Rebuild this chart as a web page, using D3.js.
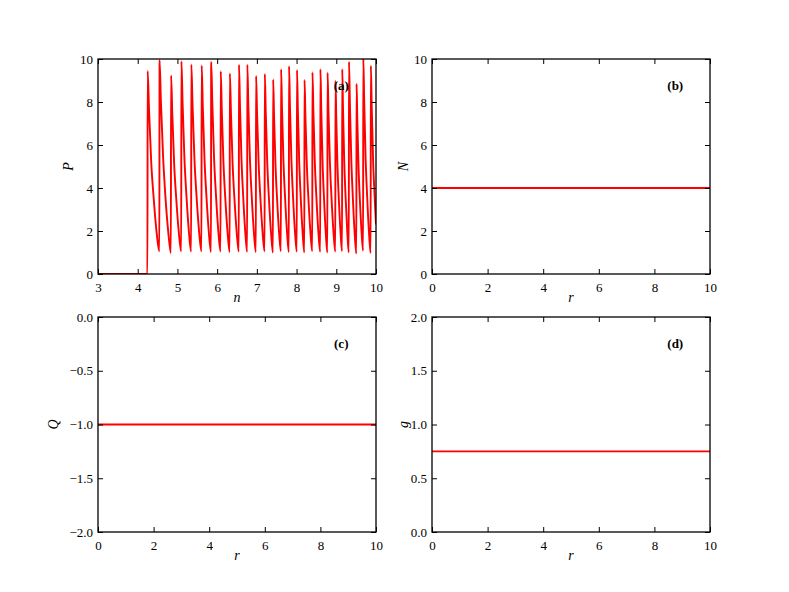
<!DOCTYPE html>
<html>
<head>
<meta charset="utf-8">
<script src="https://cdn.jsdelivr.net/npm/d3@7"></script>
<style>
	body { margin: 0; background: #fff; }
	svg { display: block; }
	.tick line { stroke: #000; stroke-width: 1; }
	.alabel { font-family: "Liberation Serif", "DejaVu Serif", serif; font-style: italic; font-size: 14px; }
	.plabel { font-family: "Liberation Serif", "DejaVu Serif", serif; font-weight: bold; font-size: 13px; }
</style>
</head>
<body>
<script>
// panel (a): P against n, one row per spike cycle
var traceA = [
	[3.0, 0], [4.245, 0],
	[4.25, 9.44], [4.286, 7.59], [4.34, 5.20], [4.40, 3.57], [4.475, 1.95], [4.545, 1.05],
	[4.55, 9.95], [4.585, 7.98], [4.64, 5.42], [4.695, 3.67], [4.77, 1.94], [4.835, 0.98],
	[4.84, 9.24], [4.871, 7.44], [4.918, 5.10], [4.97, 3.51], [5.035, 1.93], [5.095, 1.05],
	[5.10, 9.90], [5.13, 7.95], [5.175, 5.43], [5.225, 3.70], [5.288, 1.99], [5.345, 1.04],
	[5.35, 9.75], [5.381, 7.84], [5.428, 5.36], [5.48, 3.66], [5.545, 1.98], [5.605, 1.05],
	[5.61, 9.70], [5.639, 7.79], [5.682, 5.32], [5.73, 3.63], [5.79, 1.96], [5.845, 1.03],
	[5.85, 9.86], [5.879, 7.92], [5.922, 5.41], [5.97, 3.69], [6.03, 1.99], [6.085, 1.05],
	[6.09, 9.43], [6.118, 7.58], [6.159, 5.18], [6.205, 3.54], [6.263, 1.92], [6.315, 1.02],
	[6.32, 9.33], [6.348, 7.51], [6.389, 5.14], [6.435, 3.53], [6.493, 1.93], [6.545, 1.04],
	[6.55, 9.74], [6.575, 7.82], [6.613, 5.34], [6.655, 3.64], [6.708, 1.96], [6.755, 1.03],
	[6.76, 9.74], [6.786, 7.82], [6.826, 5.34], [6.87, 3.64], [6.925, 1.95], [6.975, 1.02],
	[6.98, 9.21], [7.006, 7.41], [7.046, 5.09], [7.09, 3.50], [7.145, 1.92], [7.195, 1.05],
	[7.20, 9.30], [7.225, 7.47], [7.263, 5.11], [7.305, 3.49], [7.358, 1.89], [7.405, 1.00],
	[7.41, 9.05], [7.434, 7.29], [7.47, 5.02], [7.51, 3.46], [7.56, 1.91], [7.605, 1.06],
	[7.61, 9.52], [7.634, 7.65], [7.67, 5.23], [7.71, 3.57], [7.76, 1.93], [7.805, 1.02],
	[7.81, 9.67], [7.834, 7.77], [7.87, 5.31], [7.91, 3.63], [7.96, 1.96], [8.005, 1.04],
	[8.01, 9.49], [8.033, 7.62], [8.067, 5.20], [8.105, 3.55], [8.153, 1.91], [8.195, 1.00],
	[8.20, 9.02], [8.224, 7.27], [8.26, 5.00], [8.30, 3.45], [8.35, 1.91], [8.395, 1.06],
	[8.40, 9.38], [8.424, 7.54], [8.46, 5.16], [8.50, 3.54], [8.55, 1.92], [8.595, 1.03],
	[8.60, 9.52], [8.622, 7.65], [8.654, 5.22], [8.69, 3.56], [8.735, 1.91], [8.775, 1.00],
	[8.78, 9.36], [8.804, 7.53], [8.84, 5.16], [8.88, 3.54], [8.93, 1.93], [8.975, 1.04],
	[8.98, 8.99], [9.00, 7.25], [9.031, 4.99], [9.065, 3.44], [9.108, 1.91], [9.145, 1.06],
	[9.15, 9.53], [9.17, 7.65], [9.201, 5.22], [9.235, 3.56], [9.278, 1.91], [9.315, 1.00],
	[9.32, 9.87], [9.343, 7.91], [9.377, 5.37], [9.415, 3.63], [9.463, 1.90], [9.505, 0.95],
	[9.51, 8.85], [9.53, 7.14], [9.561, 4.93], [9.595, 3.41], [9.638, 1.91], [9.675, 1.08],
	[9.68, 10.05], [9.703, 8.05], [9.737, 5.47], [9.775, 3.70], [9.823, 1.95], [9.865, 0.98],
	[9.87, 9.69], [9.893, 7.78], [9.927, 5.30], [9.965, 3.61], [10.0, 2.30]
];

// panels (b), (c), (d): flat profiles against r
var rVals = [0, 2, 4, 6, 8, 10];
var nVals = [4, 4, 4, 4, 4, 4];
var qVals = [-1, -1, -1, -1, -1, -1];
var gVals = [0.75, 0.75, 0.75, 0.75, 0.75, 0.75];

var ticksN = [3, 4, 5, 6, 7, 8, 9, 10];
var ticksR = [0, 2, 4, 6, 8, 10];
var ticksBig = [0, 2, 4, 6, 8, 10];
var ticksQ = [-2, -1.5, -1, -0.5, 0];
var ticksG = [0, 0.5, 1, 1.5, 2];

var FONT = '"Liberation Serif", "DejaVu Serif", serif';

var svg = d3.select("body").append("svg")
	.attr("width", 789)
	.attr("height", 592);

var panels = [
	{ id: "a", left: 98, top: 59, xdom: [3, 10], ydom: [0, 10], xt: ticksN, yt: ticksBig, yfmt: d3.format("d"),
	  pts: traceA, xl: "n", yl: "P", ylx: 68 },
	{ id: "b", left: 432, top: 59, xdom: [0, 10], ydom: [0, 10], xt: ticksR, yt: ticksBig, yfmt: d3.format("d"),
	  pts: rVals.map(function(r, i) { return [r, nVals[i]]; }), xl: "r", yl: "N", ylx: 403 },
	{ id: "c", left: 98, top: 317, xdom: [0, 10], ydom: [-2, 0], xt: ticksR, yt: ticksQ, yfmt: d3.format(".1f"),
	  pts: rVals.map(function(r, i) { return [r, qVals[i]]; }), xl: "r", yl: "Q", ylx: 53 },
	{ id: "d", left: 432, top: 317, xdom: [0, 10], ydom: [0, 2], xt: ticksR, yt: ticksG, yfmt: d3.format(".1f"),
	  pts: rVals.map(function(r, i) { return [r, gVals[i]]; }), xl: "r", yl: "g", ylx: 403 }
];

var W = 278, H = 215, TK = 5;

panels.forEach(function(p) {
	var x = d3.scaleLinear().domain(p.xdom).range([p.left, p.left + W]);
	var y = d3.scaleLinear().domain(p.ydom).range([p.top + H, p.top]);

	svg.append("clipPath").attr("id", "clip-" + p.id)
		.append("rect")
			.attr("x", p.left).attr("y", p.top)
			.attr("width", W).attr("height", H);

	svg.append("path")
		.datum(p.pts)
		.attr("clip-path", "url(#clip-" + p.id + ")")
		.attr("fill", "none")
		.attr("stroke", "#ff0000")
		.attr("stroke-width", 1.9)
		.attr("stroke-linejoin", "round")
		.attr("d", d3.line()
			.x(function(d) { return x(d[0]); })
			.y(function(d) { return y(d[1]); })
			.curve(d3.curveMonotoneX));

	var bottom = svg.append("g")
		.attr("transform", "translate(0," + (p.top + H) + ")")
		.call(d3.axisBottom(x).tickValues(p.xt).tickFormat(d3.format("d")).tickSize(-TK).tickPadding(9));
	var top = svg.append("g")
		.attr("transform", "translate(0," + p.top + ")")
		.call(d3.axisTop(x).tickValues(p.xt).tickFormat("").tickSize(-TK));
	var left = svg.append("g")
		.attr("transform", "translate(" + p.left + ",0)")
		.call(d3.axisLeft(y).tickValues(p.yt).tickFormat(p.yfmt).tickSize(-TK).tickPadding(5));
	var right = svg.append("g")
		.attr("transform", "translate(" + (p.left + W) + ",0)")
		.call(d3.axisRight(y).tickValues(p.yt).tickFormat("").tickSize(-TK));
	[bottom, top, left, right].forEach(function(g) {
		g.select(".domain").remove();
		g.attr("font-family", FONT).attr("font-size", 13);
		g.selectAll(".tick text").attr("fill", "#000");
	});

	svg.append("rect")
		.attr("x", p.left).attr("y", p.top)
		.attr("width", W).attr("height", H)
		.attr("fill", "none")
		.attr("stroke", "#000")
		.attr("stroke-width", 1.3);

	svg.append("text")
		.attr("class", "alabel")
		.attr("x", p.left + W / 2)
		.attr("y", p.top + H + 28)
		.attr("text-anchor", "middle")
		.text(p.xl);

	svg.append("text")
		.attr("class", "alabel")
		.attr("transform", "translate(" + p.ylx + "," + (p.top + H / 2) + ") rotate(-90)")
		.attr("text-anchor", "middle")
		.attr("dy", "0.35em")
		.text(p.yl);

	svg.append("text")
		.attr("class", "plabel")
		.attr("x", p.left + W * 0.875)
		.attr("y", p.top + 31)
		.attr("text-anchor", "middle")
		.text("(" + p.id + ")");
});
</script>
</body>
</html>
